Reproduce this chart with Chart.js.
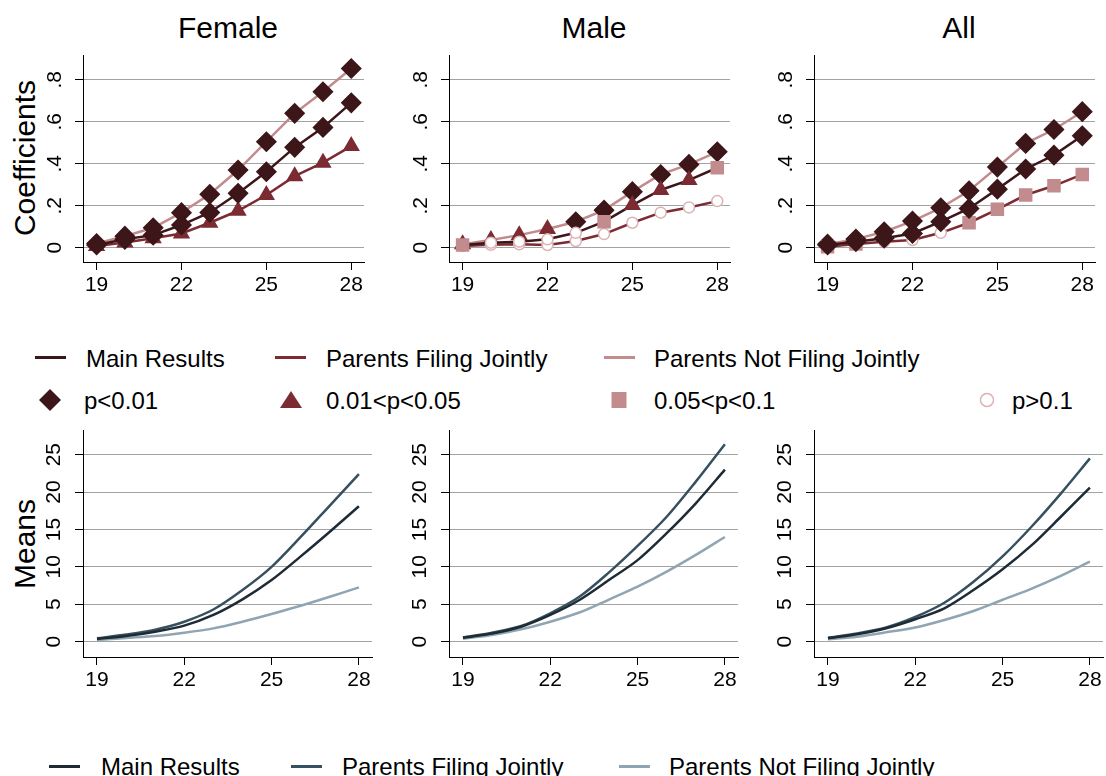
<!DOCTYPE html>
<html>
<head>
<meta charset="utf-8">
<script src="https://cdn.jsdelivr.net/npm/chart.js@4.4.1/dist/chart.umd.min.js"></script>
<style>
  body { margin: 0; width: 1106px; height: 776px; overflow: hidden; background: #fff; position: relative;
         font-family: "Liberation Sans", Arial, sans-serif; color: #000; }
  canvas { position: absolute; }
  .t { position: absolute; white-space: nowrap; line-height: 1; }
  .title { font-size: 30px; transform: translateX(-50%); }
  .ytitle { font-size: 30px; transform: translate(-50%, -50%) rotate(-90deg); }
  .leg { font-size: 24px; }
  .sw { position: absolute; height: 3px; width: 31px; }
  svg { position: absolute; overflow: visible; }
</style>
</head>
<body>

<div class="t title" style="left:228px; top:13px">Female</div>
<div class="t title" style="left:594px; top:13px">Male</div>
<div class="t title" style="left:959px; top:13px">All</div>
<div class="t ytitle" style="left:25px; top:158px">Coefficients</div>
<div class="t ytitle" style="left:25px; top:544px">Means</div>

<canvas id="cF" width="355" height="260" style="left:20px; top:40px"></canvas>
<canvas id="cM" width="355" height="260" style="left:386px; top:40px"></canvas>
<canvas id="cA" width="355" height="260" style="left:751px; top:40px"></canvas>
<canvas id="mF" width="355" height="280" style="left:20px; top:415px"></canvas>
<canvas id="mM" width="355" height="280" style="left:386px; top:415px"></canvas>
<canvas id="mA" width="355" height="280" style="left:751px; top:415px"></canvas>

<!-- legend for coefficients -->
<div class="sw" style="left:35px; top:356px; background:#3c1619"></div>
<div class="t leg" style="left:86px; top:347px">Main Results</div>
<div class="sw" style="left:275px; top:356px; background:#7b2b31"></div>
<div class="t leg" style="left:326px; top:347px">Parents Filing Jointly</div>
<div class="sw" style="left:604px; top:356px; background:#c28b8d"></div>
<div class="t leg" style="left:654px; top:347px">Parents Not Filing Jointly</div>

<svg style="left:50px; top:400px" width="1" height="1"><polygon points="-11,0 0,-11 11,0 0,11" fill="#3c1619"/></svg>
<div class="t leg" style="left:84px; top:389px">p&lt;0.01</div>
<svg style="left:291px; top:400px" width="1" height="1"><polygon points="-11,8 0,-9 11,8" fill="#7b2b31"/></svg>
<div class="t leg" style="left:326px; top:389px">0.01&lt;p&lt;0.05</div>
<svg style="left:619px; top:400px" width="1" height="1"><rect x="-7.5" y="-8" width="15" height="16" fill="#c28b8d"/></svg>
<div class="t leg" style="left:654px; top:389px">0.05&lt;p&lt;0.1</div>
<svg style="left:987px; top:400px" width="1" height="1"><circle cx="0" cy="0" r="6.5" fill="#fff" stroke="#dcb3b5" stroke-width="1.5"/></svg>
<div class="t leg" style="left:1012px; top:389px">p&gt;0.1</div>

<!-- legend for means -->
<div class="sw" style="left:49px; top:765px; background:#1e2b35"></div>
<div class="t leg" style="left:101px; top:755px">Main Results</div>
<div class="sw" style="left:291px; top:765px; background:#36505f"></div>
<div class="t leg" style="left:342px; top:755px">Parents Filing Jointly</div>
<div class="sw" style="left:619px; top:765px; background:#8fa5b2"></div>
<div class="t leg" style="left:669px; top:755px">Parents Not Filing Jointly</div>

<script>
// ages on the x axis
const ages = [19, 20, 21, 22, 23, 24, 25, 26, 27, 28];
const xTicks = [19, 22, 25, 28];
const coefTicks = [0, 0.2, 0.4, 0.6, 0.8];
const meanTicks = [0, 5, 10, 15, 20, 25];

// coefficients (top row)
const femaleMain    = [0.013, 0.040, 0.060, 0.108, 0.168, 0.259, 0.362, 0.478, 0.573, 0.690];
const femaleJoint   = [0.008, 0.025, 0.045, 0.068, 0.119, 0.176, 0.251, 0.341, 0.405, 0.484];
const femaleNotJnt  = [0.020, 0.055, 0.095, 0.167, 0.255, 0.370, 0.505, 0.640, 0.743, 0.854];
const maleMain      = [0.013, 0.024, 0.029, 0.040, 0.071, 0.124, 0.203, 0.275, 0.322, 0.381];
const maleJoint     = [0.008, 0.014, 0.016, 0.013, 0.032, 0.065, 0.119, 0.167, 0.192, 0.222];
const maleNotJnt    = [0.017, 0.037, 0.060, 0.089, 0.124, 0.179, 0.267, 0.349, 0.397, 0.457];
const allMain       = [0.013, 0.029, 0.045, 0.068, 0.124, 0.187, 0.279, 0.375, 0.441, 0.533];
const allJoint      = [0.005, 0.018, 0.029, 0.037, 0.071, 0.119, 0.183, 0.251, 0.295, 0.349];
const allNotJnt     = [0.017, 0.041, 0.076, 0.127, 0.190, 0.271, 0.384, 0.497, 0.563, 0.648];

// significance class per point: 1 p<0.01, 2 0.01<p<0.05, 3 0.05<p<0.1, 4 p>0.1
const femaleMainSig   = [1, 1, 1, 1, 1, 1, 1, 1, 1, 1];
const femaleJointSig  = [2, 2, 2, 2, 2, 2, 2, 2, 2, 2];
const femaleNotJntSig = [1, 1, 1, 1, 1, 1, 1, 1, 1, 1];
const maleMainSig     = [3, 4, 4, 4, 4, 3, 2, 2, 2, 3];
const maleJointSig    = [4, 4, 4, 4, 4, 4, 4, 4, 4, 4];
const maleNotJntSig   = [2, 2, 2, 2, 1, 1, 1, 1, 1, 1];
const allMainSig      = [1, 1, 1, 1, 1, 1, 1, 1, 1, 1];
const allJointSig     = [3, 3, 4, 4, 4, 3, 3, 3, 3, 3];
const allNotJntSig    = [1, 1, 1, 1, 1, 1, 1, 1, 1, 1];

// means (bottom row)
const femaleMainMean   = [0.36, 0.76, 1.34, 2.14, 3.57, 5.66, 8.24, 11.4, 14.7, 18.1];
const femaleJointMean  = [0.45, 0.95, 1.60, 2.67, 4.30, 6.90, 10.0, 14.0, 18.2, 22.4];
const femaleNotJntMean = [0.22, 0.50, 0.76, 1.20, 1.78, 2.67, 3.70, 4.80, 6.00, 7.26];
const maleMainMean     = [0.53, 1.10, 2.00, 3.57, 5.57, 8.20, 10.9, 14.5, 18.5, 23.0];
const maleJointMean    = [0.58, 1.20, 2.10, 3.80, 6.00, 9.20, 12.8, 16.7, 21.4, 26.4];
const maleNotJntMean   = [0.40, 0.90, 1.65, 2.67, 3.90, 5.60, 7.35, 9.36, 11.6, 14.0];
const allMainMean      = [0.45, 1.00, 1.80, 3.00, 4.46, 6.90, 9.67, 12.9, 16.7, 20.6];
const allJointMean     = [0.53, 1.10, 1.90, 3.30, 5.20, 8.00, 11.4, 15.4, 19.8, 24.5];
const allNotJntMean    = [0.31, 0.67, 1.25, 1.90, 2.90, 4.10, 5.60, 7.10, 8.80, 10.7];

const FONT = '"Liberation Sans", Arial, sans-serif';
const coefColors = ['#3c1619', '#7b2b31', '#c28b8d'];
const meanColors = ['#1e2b35', '#36505f', '#8fa5b2'];
const sigStyle = {
  1: { style: 'rectRot',  r: 9.5, fill: '#3c1619', edge: '#3c1619' },
  2: { style: 'triangle', r: 8.5, fill: '#7b2b31', edge: '#7b2b31' },
  3: { style: 'rect',     r: 8.5, fill: '#c28b8d', edge: '#c28b8d' },
  4: { style: 'circle',   r: 5.5, fill: '#ffffff', edge: '#dcb3b5' }
};

function xScale() {
  return {
    type: 'linear', min: 18.52, max: 28.45,
    afterBuildTicks: s => { s.ticks = xTicks.map(v => ({ value: v })); },
    afterFit: s => { s.height = 38; s.paddingLeft = 0; s.paddingRight = 0; },
    grid: { drawOnChartArea: false, drawTicks: true, tickLength: 8, tickColor: '#000', tickWidth: 1 },
    border: { color: '#000', width: 1 },
    ticks: { color: '#000', font: { family: FONT, size: 21 }, padding: 3,
             minRotation: 0, maxRotation: 0, autoSkip: false, callback: v => String(v) }
  };
}

function yScale(min, max, ticks, pad, fmt) {
  return {
    type: 'linear', min: min, max: max,
    afterBuildTicks: s => { s.ticks = ticks.map(v => ({ value: v })); },
    afterFit: s => { s.width = 63; s.paddingTop = 0; s.paddingBottom = 0; },
    grid: { color: '#a3a3a3', lineWidth: 1, drawTicks: true, tickLength: 8, tickColor: '#000', tickWidth: 1 },
    border: { color: '#000', width: 1 },
    ticks: { color: '#000', font: { family: FONT, size: 21 }, padding: pad,
             minRotation: 90, maxRotation: 90, crossAlign: 'center', autoSkip: false, callback: fmt }
  };
}

function baseOptions(yOpts) {
  return {
    responsive: false, animation: false, events: [],
    layout: { padding: { top: 15, right: 3, left: 0, bottom: 0 } },
    plugins: { legend: { display: false }, tooltip: { enabled: false } },
    scales: { x: xScale(), y: yOpts }
  };
}

function coefSet(vals, sig, color) {
  return {
    data: ages.map((a, i) => ({ x: a, y: vals[i] })),
    borderColor: color, borderWidth: 2.5, tension: 0,
    pointStyle: sig.map(s => sigStyle[s].style),
    pointRadius: sig.map(s => sigStyle[s].r),
    pointBackgroundColor: sig.map(s => sigStyle[s].fill),
    pointBorderColor: sig.map(s => sigStyle[s].edge),
    pointBorderWidth: 1.5
  };
}

function meanSet(vals, color) {
  return {
    data: ages.map((a, i) => ({ x: a, y: vals[i] })),
    borderColor: color, borderWidth: 2.5, pointRadius: 0,
    tension: 0.3
  };
}

const coefFmt = v => v === 0 ? '0' : '.' + Math.round(v * 10);

function coefChart(id, main, joint, notJ, mainSig, jointSig, notSig) {
  new Chart(document.getElementById(id), {
    type: 'line',
    data: { datasets: [
      coefSet(main, mainSig, coefColors[0]),
      coefSet(joint, jointSig, coefColors[1]),
      coefSet(notJ, notSig, coefColors[2])
    ] },
    options: baseOptions(yScale(-0.068, 0.918, coefTicks, 11.5, coefFmt))
  });
}

function meanChart(id, main, joint, notJ) {
  new Chart(document.getElementById(id), {
    type: 'line',
    data: { datasets: [
      meanSet(main, meanColors[0]),
      meanSet(joint, meanColors[1]),
      meanSet(notJ, meanColors[2])
    ] },
    options: baseOptions(yScale(-2.05, 28.3, meanTicks, 8.8, v => String(v)))
  });
}

coefChart('cF', femaleMain, femaleJoint, femaleNotJnt, femaleMainSig, femaleJointSig, femaleNotJntSig);
coefChart('cM', maleMain, maleJoint, maleNotJnt, maleMainSig, maleJointSig, maleNotJntSig);
coefChart('cA', allMain, allJoint, allNotJnt, allMainSig, allJointSig, allNotJntSig);
meanChart('mF', femaleMainMean, femaleJointMean, femaleNotJntMean);
meanChart('mM', maleMainMean, maleJointMean, maleNotJntMean);
meanChart('mA', allMainMean, allJointMean, allNotJntMean);
</script>
</body>
</html>
